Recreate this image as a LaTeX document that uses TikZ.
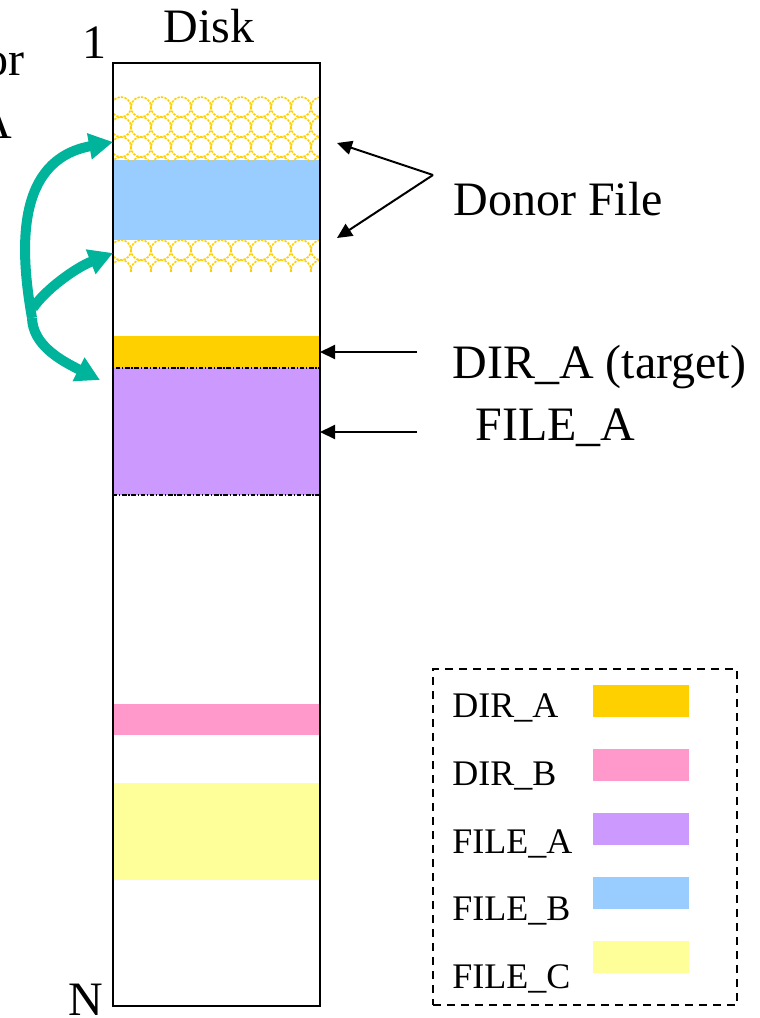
\documentclass[tikz,border=0pt]{standalone}
\usepackage{fontspec}
\setmainfont{Liberation Serif}
\usetikzlibrary{fit,arrows.meta}
\definecolor{dirAclr}{HTML}{FFD000}
\definecolor{dirBclr}{HTML}{FF99CC}
\definecolor{fileAclr}{HTML}{CC99FF}
\definecolor{fileBclr}{HTML}{99CCFF}
\definecolor{fileCclr}{HTML}{FFFF99}
\definecolor{moveclr}{HTML}{00B39B}
\begin{document}
\begin{tikzpicture}[x=0.5pt,y=-0.5pt,
  band/.style={inner sep=0pt, outer sep=0pt, draw=none},
  big/.style={font=\fontsize{24}{28}\selectfont, inner sep=0pt},
  small/.style={font=\fontsize{18}{21}\selectfont, inner sep=0pt},
  ptr/.style={-{Triangle[length=7.5pt,width=7pt]}, line width=1pt},
  move/.style={-{Triangle[length=12pt,width=12.5pt]}, line width=5pt, draw=moveclr},
  ring/.style={dirAclr, line width=0.8pt, dash pattern=on 1.2pt off 0.6pt},
  swatch/.style={inner sep=0pt, outer sep=0pt, draw=none}]
\useasboundingbox (0,0) rectangle (760,1018);

% disk bands
\node[band, fit={(113,96) (320,160)}] (hatchA) {};
\node[band, fill=fileBclr, fit={(113,160) (320,240)}] (fileB) {};
\node[band, fit={(113,240) (320,271)}] (hatchB) {};
\node[band, fill=dirAclr, fit={(113,336) (320,368)}] (dirA) {};
\node[band, fill=fileAclr, draw=black, line width=0.9pt,
      dash pattern=on 2.2pt off 0.9pt on 0.6pt off 0.9pt, fit={(113,368) (320,495)}] (fileA) {};
\node[band, fill=dirBclr, fit={(113,704) (320,735)}] (dirB) {};
\node[band, fill=fileCclr, fit={(113,783) (320,880)}] (fileC) {};

% ring lattice of the donor blocks
\begin{scope}
  \clip (113,96) rectangle (320,160);
  \foreach \i in {-1,...,10}
    \foreach \j in {0,...,3}
      \draw[ring] (121+20*\i,107+20*\j) circle [radius=10];
\end{scope}
\begin{scope}
  \clip (113,240) rectangle (320,271);
  \foreach \i in {-1,...,10}
    \foreach \j in {0,...,1}
      \draw[ring] (121+20*\i,250+20*\j) circle [radius=10];
\end{scope}

% disk outline
\node[draw=black, line width=1pt, inner sep=0pt, fit={(113,63) (320,1006)}] (disk) {};

% labels
\node[big, anchor=base] (disktitle) at (209,42) {Disk};
\node[big, anchor=base] (first) at (95,58) {1};
\node[big, anchor=base] (last) at (86,1015) {N};
\node[big, anchor=base west] (donorlbl) at (453,215) {Donor File};
\node[big, anchor=base west] (dirlbl) at (452,378) {DIR\_A (target)};
\node[big, anchor=base west] (filelbl) at (475,440) {FILE\_A};
\node[big, anchor=base east] (cutA) at (25,75) {or};
\node[big, anchor=base east] (cutB) at (13,138) {A};

% pointers
\coordinate (donorsplit) at (433,175);
\coordinate (donortipA) at (337,143);
\coordinate (donortipB) at (337,238);
\draw[ptr] (donorsplit) -- (donortipA);
\draw[ptr] (donorsplit) -- (donortipB);
\coordinate (dirtail) at (417,352);
\coordinate (filetail) at (417,432);
\draw[ptr] (dirtail) -- (dirA.east);
\draw[ptr] (filetail) -- (filetail -| fileA.east);

% relocation arrows
\coordinate (branch) at (32,318);
\coordinate (tipA) at (113,142);
\coordinate (tipB) at (113,253);
\coordinate (tipC) at (100,380);
\draw[move] (branch) .. controls (20,250) and (15,160) .. (tipA);
\draw[move] (33,308) .. controls (45,290) and (75,268) .. (tipB);
\draw[move] (branch) .. controls (33,345) and (60,360) .. (tipC);

% legend
\node[draw=black, line width=1pt, dash pattern=on 4pt off 3pt, inner sep=0pt,
      fit={(433,669) (737,1005)}] (legend) {};
\node[swatch, fill=dirAclr, fit={(593,685) (689,717)}] (swA) {};
\node[swatch, fill=dirBclr, fit={(593,749) (689,781)}] (swB) {};
\node[swatch, fill=fileAclr, fit={(593,813) (689,845)}] (swC) {};
\node[swatch, fill=fileBclr, fit={(593,877) (689,909)}] (swD) {};
\node[swatch, fill=fileCclr, fit={(593,941) (689,973)}] (swE) {};
\node[small, anchor=base west] (lgA) at (452,717) {DIR\_A};
\node[small, anchor=base west] (lgB) at (452,785) {DIR\_B};
\node[small, anchor=base west] (lgC) at (452,853) {FILE\_A};
\node[small, anchor=base west] (lgD) at (452,920) {FILE\_B};
\node[small, anchor=base west] (lgE) at (452,988) {FILE\_C};
\end{tikzpicture}
\end{document}
